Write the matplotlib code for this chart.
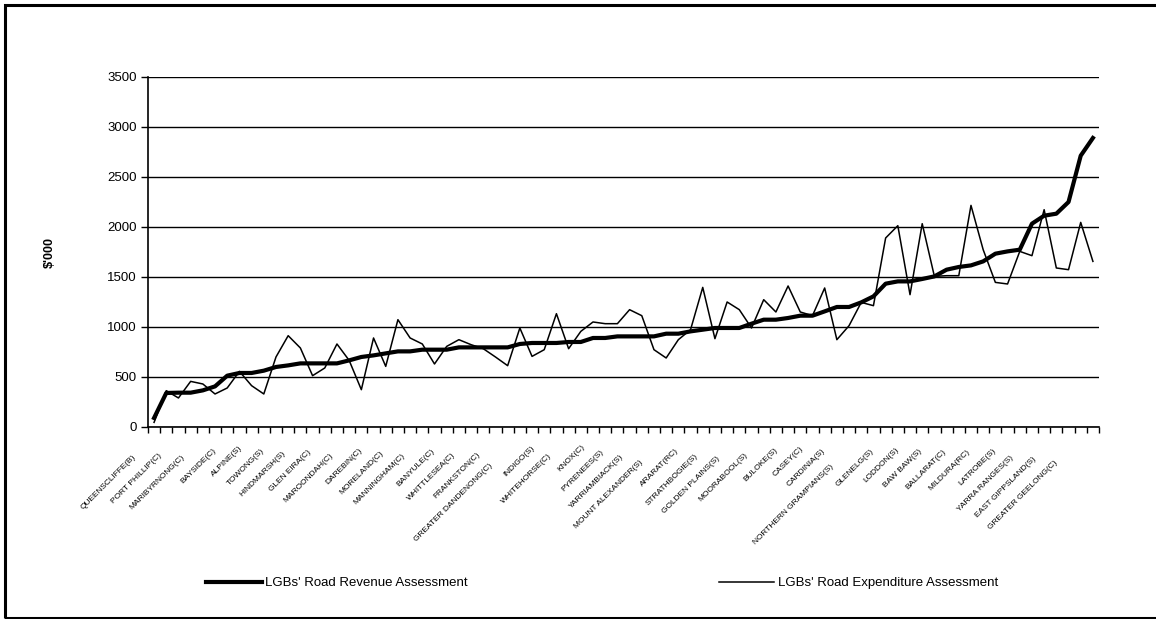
import matplotlib
matplotlib.use('Agg')
import matplotlib.pyplot as plt
from matplotlib.transforms import blended_transform_factory, ScaledTranslation
from matplotlib.font_manager import FontProperties
from matplotlib.lines import Line2D
from matplotlib.patches import Rectangle
import numpy as np

plt.rcParams['font.family'] = ['Liberation Sans', 'DejaVu Sans']

# 每隔一个地区标注一次
councils = ['QUEENSCLIFFE(B)', 'PORT PHILLIP(C)', 'MARIBYRNONG(C)', 'BAYSIDE(C)', 'ALPINE(S)',
            'TOWONG(S)', 'HINDMARSH(S)', 'GLEN EIRA(C)', 'MAROONDAH(C)', 'DAREBIN(C)',
            'MORELAND(C)', 'MANNINGHAM(C)', 'BANYULE(C)', 'WHITTLESEA(C)', 'FRANKSTON(C)',
            'GREATER DANDENONG(C)', 'INDIGO(S)', 'WHITEHORSE(C)', 'KNOX(C)', 'PYRENEES(S)',
            'YARRIAMBIACK(S)', 'MOUNT ALEXANDER(S)', 'ARARAT(RC)', 'STRATHBOGIE(S)',
            'GOLDEN PLAINS(S)', 'MOORABOOL(S)', 'BULOKE(S)', 'CASEY(C)', 'CARDINIA(S)',
            'NORTHERN GRAMPIANS(S)', 'GLENELG(S)', 'LODDON(S)', 'BAW BAW(S)', 'BALLARAT(C)',
            'MILDURA(RC)', 'LATROBE(S)', 'YARRA RANGES(S)', 'EAST GIPPSLAND(S)', 'GREATER GEELONG(C)']

revenue = [87, 337, 340, 340, 363, 403, 510, 537, 537, 560,
           597, 613, 633, 633, 633, 633, 663, 697, 713, 733,
           753, 753, 770, 770, 770, 793, 793, 793, 793, 793,
           827, 837, 837, 837, 847, 847, 887, 887, 903, 903,
           903, 903, 930, 930, 953, 970, 987, 987, 987, 1030,
           1070, 1070, 1087, 1110, 1110, 1153, 1197, 1197, 1243, 1303,
           1430, 1453, 1453, 1477, 1503, 1570, 1597, 1613, 1653, 1730,
           1753, 1770, 2030, 2110, 2130, 2247, 2710, 2887]

expenditure = [43, 360, 287, 453, 427, 327, 387, 553, 410, 327,
               697, 910, 787, 510, 587, 827, 663, 370, 887, 603,
               1070, 887, 827, 627, 803, 870, 820, 780, 697, 610,
               987, 703, 770, 1130, 780, 953, 1047, 1030, 1030, 1170,
               1110, 770, 687, 870, 970, 1393, 880, 1247, 1170, 987,
               1270, 1147, 1407, 1147, 1110, 1387, 870, 1010, 1243, 1210,
               1887, 2010, 1320, 2030, 1503, 1510, 1510, 2213, 1770, 1443,
               1427, 1753, 1710, 2170, 1587, 1570, 2043, 1653]

yticks = [0, 500, 1000, 1500, 2000, 2500, 3000, 3500]

fig = plt.figure(figsize=(11.56, 6.19), dpi=100)
ax = fig.add_axes([0.128, 0.3107, 0.8227, 0.5654])

x = np.arange(len(revenue))
ax.plot(x, expenditure, color='black', lw=1.1, zorder=3)
ax.plot(x, revenue, color='black', lw=3, zorder=4, solid_joinstyle='round')

ax.set_xlim(-0.5, len(x) - 0.5)
ax.set_ylim(0, 3500)
ax.set_yticks(yticks)
ax.yaxis.grid(True, color='black', lw=1.0)
ax.set_axisbelow(True)

# 刻度线画在分类之间
ax.set_xticks(np.arange(len(x) + 1) - 0.5)
ax.set_xticklabels([])
ax.tick_params(axis='x', direction='out', length=4, width=1)
ax.tick_params(axis='y', direction='out', length=5, width=1, labelsize=9.5, pad=3)
ax.spines['top'].set_visible(False)
ax.spines['right'].set_visible(False)
ax.spines['left'].set_linewidth(1.2)
ax.spines['bottom'].set_linewidth(1.2)

# 斜着的地区名
fig.canvas.draw()
r = fig.canvas.get_renderer()
fp = FontProperties(family=['Liberation Sans Narrow', 'Liberation Sans'], size=6.0)
trans = blended_transform_factory(ax.transData, ax.transAxes)
for k, name in enumerate(councils):
    w, h, d = r.get_text_width_height_descent(name, fp, ismath=False)
    g = 0.37 * w * 0.707 / fig.dpi
    off = ScaledTranslation(-g, -(g + 10 / fig.dpi), fig.dpi_scale_trans)
    ax.text(2 * k, 0, name, transform=trans + off, rotation=45, rotation_mode='anchor',
            ha='right', va='center', fontproperties=fp)

fig.text(50 / 1156, 1 - 253 / 619, "$'000", rotation=90, fontweight='bold', fontsize=9,
         ha='center', va='center')

handles = [Line2D([], [], color='black', lw=3), Line2D([], [], color='black', lw=1.1)]
fig.legend(handles, ["LGBs' Road Revenue Assessment", "LGBs' Road Expenditure Assessment"],
           ncol=2, loc='center', bbox_to_anchor=(0.521, 0.058), frameon=False, fontsize=9.5,
           handlelength=4.2, handletextpad=0.3, columnspacing=19)

# 外框
fig.patches.append(Rectangle((5 / 1156, 1.5 / 619), 1.1, 1 - 6.5 / 619, fill=False,
                             lw=2.2, edgecolor='black', transform=fig.transFigure))

fig.savefig('out.png', dpi=100)
